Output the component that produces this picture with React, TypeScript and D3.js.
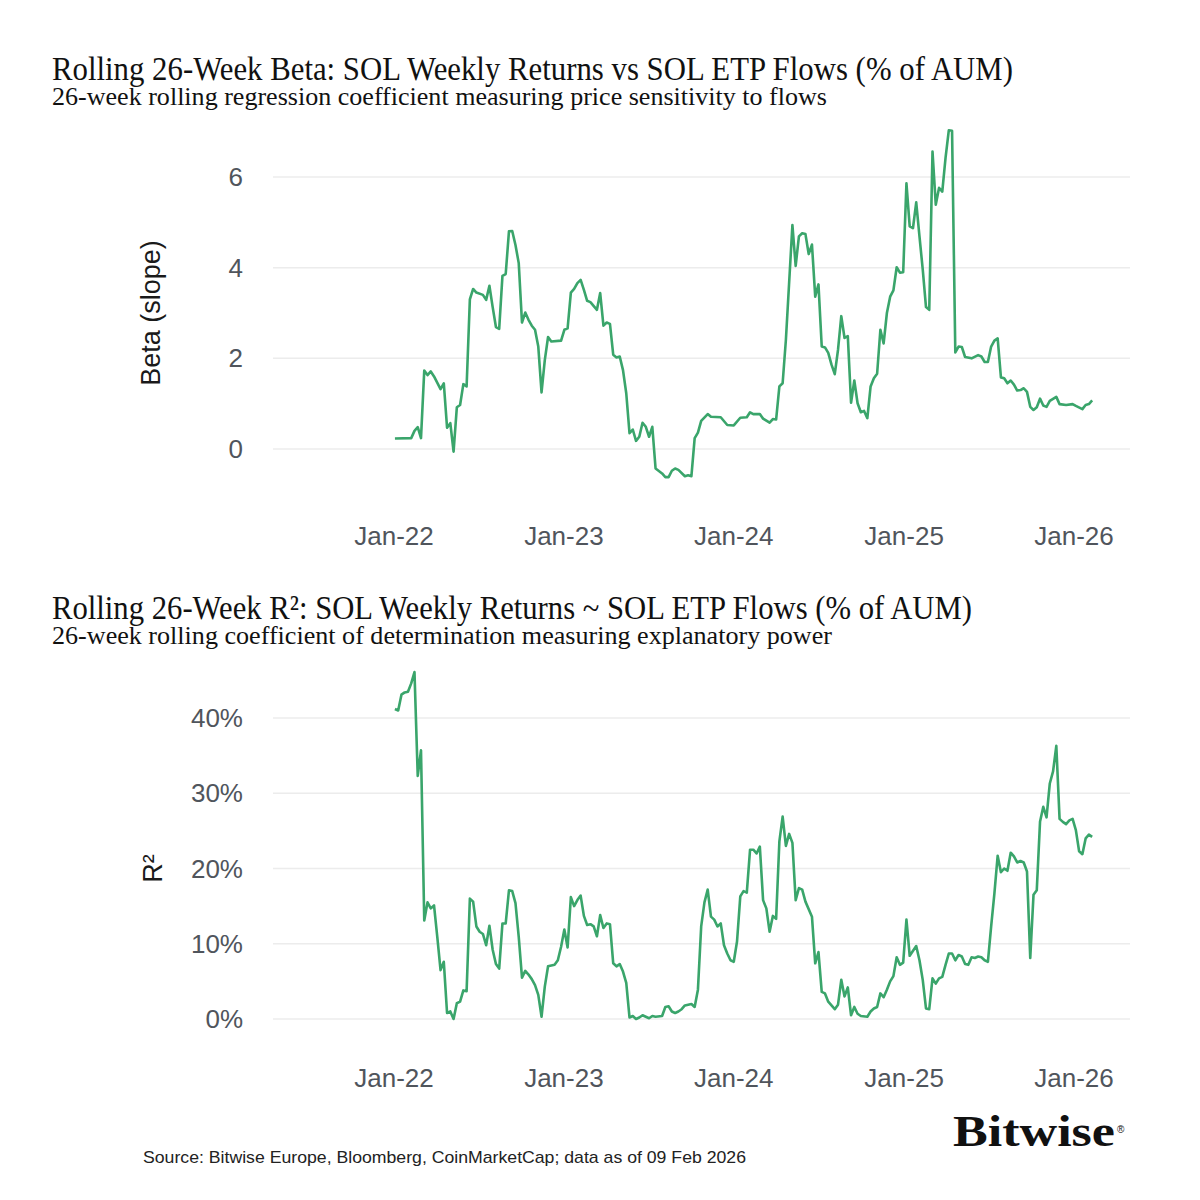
import { useEffect, useRef } from 'react'
import * as d3 from 'd3'

const betaDates = [
  '2022-01-03', '2022-02-07', '2022-02-14', '2022-02-21', '2022-02-28', '2022-03-07', '2022-03-14', '2022-03-21',
  '2022-03-28', '2022-04-11', '2022-04-18', '2022-04-25', '2022-05-02', '2022-05-09', '2022-05-16', '2022-05-23',
  '2022-05-30', '2022-06-06', '2022-06-13', '2022-06-20', '2022-06-27', '2022-07-11', '2022-07-18', '2022-07-25',
  '2022-08-01', '2022-08-08', '2022-08-15', '2022-08-22', '2022-08-29', '2022-09-05', '2022-09-12', '2022-09-19',
  '2022-09-26', '2022-10-03', '2022-10-10', '2022-10-17', '2022-10-24', '2022-10-31', '2022-11-07', '2022-11-14',
  '2022-11-21', '2022-11-28', '2022-12-05', '2022-12-26', '2023-01-02', '2023-01-09', '2023-01-16', '2023-01-23',
  '2023-01-30', '2023-02-06', '2023-02-13', '2023-02-20', '2023-02-27', '2023-03-13', '2023-03-20', '2023-03-27',
  '2023-04-03', '2023-04-10', '2023-04-17', '2023-04-24', '2023-05-01', '2023-05-08', '2023-05-15', '2023-05-22',
  '2023-05-29', '2023-06-05', '2023-06-12', '2023-06-19', '2023-06-26', '2023-07-03', '2023-07-10', '2023-07-17',
  '2023-07-31', '2023-08-07', '2023-08-14', '2023-08-21', '2023-08-28', '2023-09-04', '2023-09-18', '2023-09-25',
  '2023-10-02', '2023-10-09', '2023-10-16', '2023-10-23', '2023-11-06', '2023-11-13', '2023-12-04', '2023-12-18',
  '2024-01-01', '2024-01-15', '2024-01-29', '2024-02-05', '2024-02-12', '2024-02-26', '2024-03-04', '2024-03-18',
  '2024-03-25', '2024-04-01', '2024-04-08', '2024-04-15', '2024-04-22', '2024-05-06', '2024-05-13', '2024-05-20',
  '2024-05-27', '2024-06-03', '2024-06-10', '2024-06-17', '2024-06-24', '2024-07-01', '2024-07-08', '2024-07-15',
  '2024-07-22', '2024-07-29', '2024-08-05', '2024-08-12', '2024-08-19', '2024-08-26', '2024-09-02', '2024-09-09',
  '2024-09-16', '2024-09-23', '2024-09-30', '2024-10-07', '2024-10-14', '2024-10-21', '2024-10-28', '2024-11-04',
  '2024-11-11', '2024-11-18', '2024-11-25', '2024-12-02', '2024-12-09', '2024-12-16', '2024-12-23', '2024-12-30',
  '2025-01-06', '2025-01-13', '2025-01-20', '2025-01-27', '2025-02-03', '2025-02-10', '2025-02-17', '2025-02-24',
  '2025-03-03', '2025-03-10', '2025-03-17', '2025-03-24', '2025-03-31', '2025-04-07', '2025-04-14', '2025-04-21',
  '2025-04-28', '2025-05-05', '2025-05-12', '2025-05-26', '2025-06-09', '2025-06-16', '2025-06-23', '2025-06-30',
  '2025-07-07', '2025-07-14', '2025-07-21', '2025-07-28', '2025-08-04', '2025-08-11', '2025-08-18', '2025-08-25',
  '2025-09-01', '2025-09-08', '2025-09-15', '2025-09-22', '2025-09-29', '2025-10-06', '2025-10-13', '2025-10-20',
  '2025-10-27', '2025-11-03', '2025-11-10', '2025-11-24', '2025-12-01', '2025-12-15', '2025-12-29', '2026-01-05',
  '2026-01-19', '2026-01-26', '2026-02-02', '2026-02-09',
]
const betaValues = [
  0.23, 0.24, 0.4, 0.48, 0.24, 1.73, 1.63, 1.71,
  1.6, 1.32, 1.45, 0.47, 0.57, -0.06, 0.92, 0.97,
  1.43, 1.38, 3.3, 3.53, 3.45, 3.4, 3.29, 3.6,
  3.13, 2.69, 2.65, 3.82, 3.86, 4.8, 4.81, 4.5,
  4.1, 2.79, 3.01, 2.85, 2.72, 2.63, 2.26, 1.25,
  1.96, 2.47, 2.37, 2.39, 2.63, 2.66, 3.45, 3.53,
  3.66, 3.73, 3.51, 3.27, 3.24, 3.07, 3.44, 2.72,
  2.79, 2.76, 2.08, 2.02, 2.04, 1.74, 1.23, 0.35,
  0.43, 0.18, 0.27, 0.58, 0.49, 0.27, 0.49, -0.43,
  -0.54, -0.62, -0.62, -0.48, -0.43, -0.46, -0.6, -0.58,
  -0.6, 0.24, 0.36, 0.62, 0.77, 0.71, 0.7, 0.53,
  0.52, 0.69, 0.7, 0.81, 0.77, 0.77, 0.67, 0.58,
  0.66, 0.65, 1.38, 1.45, 2.41, 4.94, 4.04, 4.69,
  4.76, 4.74, 4.3, 4.51, 3.36, 3.63, 2.26, 2.24,
  2.12, 1.86, 1.65, 2.19, 2.93, 2.45, 2.49, 1.02,
  1.51, 1.01, 0.81, 0.84, 0.68, 1.38, 1.56, 1.66,
  2.63, 2.33, 3.0, 3.36, 3.5, 4.01, 3.89, 3.9,
  5.86, 4.91, 4.87, 5.44, 4.69, 3.96, 3.13, 3.07,
  6.56, 5.39, 5.76, 5.68, 6.42, 7.03, 7.02, 2.13,
  2.26, 2.25, 2.03, 2.0, 2.07, 2.04, 1.92, 1.92,
  2.26, 2.39, 2.44, 1.58, 1.56, 1.45, 1.51, 1.42,
  1.29, 1.3, 1.34, 1.26, 0.93, 0.86, 0.92, 1.11,
  0.96, 0.93, 1.06, 1.15, 0.99, 0.97, 0.99, 0.95,
  0.88, 0.97, 0.99, 1.07,
]

const r2Dates = [
  '2022-01-03', '2022-01-10', '2022-01-17', '2022-01-24', '2022-01-31', '2022-02-07', '2022-02-14', '2022-02-21',
  '2022-02-28', '2022-03-07', '2022-03-14', '2022-03-21', '2022-03-28', '2022-04-04', '2022-04-11', '2022-04-18',
  '2022-04-25', '2022-05-02', '2022-05-09', '2022-05-16', '2022-05-23', '2022-05-30', '2022-06-06', '2022-06-13',
  '2022-06-20', '2022-06-27', '2022-07-04', '2022-07-11', '2022-07-18', '2022-07-25', '2022-08-01', '2022-08-08',
  '2022-08-15', '2022-08-22', '2022-08-29', '2022-09-05', '2022-09-12', '2022-09-19', '2022-09-26', '2022-10-03',
  '2022-10-10', '2022-10-17', '2022-10-24', '2022-10-31', '2022-11-07', '2022-11-14', '2022-11-21', '2022-11-28',
  '2022-12-12', '2022-12-19', '2022-12-26', '2023-01-02', '2023-01-09', '2023-01-16', '2023-01-23', '2023-01-30',
  '2023-02-06', '2023-02-13', '2023-02-20', '2023-02-27', '2023-03-06', '2023-03-13', '2023-03-20', '2023-03-27',
  '2023-04-03', '2023-04-10', '2023-04-17', '2023-04-24', '2023-05-01', '2023-05-08', '2023-05-15', '2023-05-22',
  '2023-05-29', '2023-06-05', '2023-06-12', '2023-06-19', '2023-06-26', '2023-07-03', '2023-07-10', '2023-07-17',
  '2023-07-31', '2023-08-07', '2023-08-14', '2023-08-21', '2023-08-28', '2023-09-04', '2023-09-11', '2023-09-18',
  '2023-10-02', '2023-10-09', '2023-10-16', '2023-10-23', '2023-10-30', '2023-11-06', '2023-11-13', '2023-11-20',
  '2023-11-27', '2023-12-04', '2023-12-11', '2023-12-18', '2023-12-25', '2024-01-01', '2024-01-08', '2024-01-15',
  '2024-01-22', '2024-01-29', '2024-02-05', '2024-02-12', '2024-02-19', '2024-02-26', '2024-03-04', '2024-03-11',
  '2024-03-18', '2024-03-25', '2024-04-01', '2024-04-08', '2024-04-15', '2024-04-22', '2024-04-29', '2024-05-06',
  '2024-05-13', '2024-05-20', '2024-05-27', '2024-06-03', '2024-06-17', '2024-06-24', '2024-07-01', '2024-07-08',
  '2024-07-15', '2024-07-22', '2024-07-29', '2024-08-05', '2024-08-12', '2024-08-19', '2024-08-26', '2024-09-02',
  '2024-09-09', '2024-09-16', '2024-09-23', '2024-09-30', '2024-10-14', '2024-10-21', '2024-10-28', '2024-11-04',
  '2024-11-11', '2024-11-18', '2024-11-25', '2024-12-02', '2024-12-09', '2024-12-16', '2024-12-23', '2024-12-30',
  '2025-01-06', '2025-01-13', '2025-01-27', '2025-02-03', '2025-02-10', '2025-02-17', '2025-02-24', '2025-03-03',
  '2025-03-10', '2025-03-17', '2025-03-24', '2025-03-31', '2025-04-07', '2025-04-14', '2025-04-21', '2025-04-28',
  '2025-05-05', '2025-05-12', '2025-05-19', '2025-05-26', '2025-06-02', '2025-06-09', '2025-06-16', '2025-06-23',
  '2025-06-30', '2025-07-07', '2025-07-14', '2025-07-21', '2025-07-28', '2025-08-04', '2025-08-11', '2025-08-18',
  '2025-08-25', '2025-09-01', '2025-09-08', '2025-09-15', '2025-09-22', '2025-09-29', '2025-10-06', '2025-10-13',
  '2025-10-20', '2025-10-27', '2025-11-03', '2025-11-10', '2025-11-17', '2025-11-24', '2025-12-01', '2025-12-08',
  '2025-12-15', '2025-12-22', '2025-12-29', '2026-01-05', '2026-01-12', '2026-01-19', '2026-01-26', '2026-02-02',
  '2026-02-09',
]
// R² in percent
const r2Values = [
  41.2, 41.0, 43.1, 43.4, 43.5, 44.6, 46.1, 32.3,
  35.7, 13.1, 15.5, 14.7, 15.1, 10.9, 6.5, 7.6,
  0.8, 1.0, 0.0, 2.1, 2.3, 3.8, 3.7, 16.0,
  15.6, 12.3, 11.6, 11.3, 9.8, 12.4, 9.2, 7.3,
  6.7, 12.7, 12.7, 17.1, 17.0, 15.4, 10.9, 5.5,
  6.4, 5.9, 5.3, 4.5, 3.2, 0.3, 4.3, 7.0,
  7.2, 7.8, 9.6, 11.9, 9.5, 16.2, 15.0, 15.8,
  16.4, 13.7, 12.5, 12.6, 12.3, 11.0, 13.8, 12.1,
  12.7, 12.6, 7.4, 7.0, 7.3, 6.3, 4.8, 0.2,
  0.4, 0.0, 0.2, 0.5, 0.3, 0.1, 0.4, 0.3,
  0.4, 1.6, 1.7, 1.0, 0.8, 1.0, 1.3, 1.8,
  2.0, 1.6, 3.9, 12.3, 15.5, 17.2, 13.6, 13.2,
  12.3, 12.7, 9.8, 8.7, 7.8, 7.6, 10.3, 16.3,
  17.0, 16.8, 22.5, 22.5, 22.0, 22.9, 15.8, 14.7,
  11.6, 13.7, 13.3, 23.6, 26.9, 23.0, 24.6, 23.4,
  15.8, 17.4, 17.2, 15.6, 13.6, 7.4, 8.9, 3.6,
  3.4, 2.3, 1.8, 1.3, 1.9, 5.2, 3.0, 4.2,
  0.5, 1.6, 0.7, 0.4, 0.3, 1.0, 1.4, 1.6,
  3.4, 2.9, 3.9, 5.0, 5.7, 8.2, 7.2, 7.5,
  13.2, 8.4, 9.7, 7.8, 5.2, 1.4, 1.3, 5.4,
  4.7, 5.4, 5.6, 7.2, 8.7, 8.7, 7.8, 8.5,
  8.3, 7.3, 7.2, 8.2, 8.1, 8.3, 8.2, 7.8,
  7.6, 12.3, 16.7, 21.7, 19.5, 20.0, 19.7, 22.1,
  21.6, 20.8, 21.0, 20.8, 19.6, 8.1, 16.5, 17.1,
  26.2, 28.2, 26.8, 31.3, 32.9, 36.3, 26.6, 26.2,
  25.9, 26.4, 26.6, 25.1, 22.3, 21.9, 24.0, 24.5,
  24.2,
]

const xTickDates = ['2022-01-01', '2023-01-01', '2024-01-01', '2025-01-01', '2026-01-01']
const betaTicks = [0, 2, 4, 6]
const r2Ticks = [0, 10, 20, 30, 40]

const LINE = '#3aa56b'
const GRID = '#ececec'
const TICK = '#50555c'
const SERIF = '"Liberation Serif", "Times New Roman", serif'
const SANS = '"Liberation Sans", Arial, Helvetica, sans-serif'

const parseDate = d3.utcParse('%Y-%m-%d')

interface PanelOpts {
  dates: string[]
  values: number[]
  yDomain: [number, number]
  yRange: [number, number]
  ticks: number[]
  tickFormat: (d: number) => string
  yTitle: string
  yTitleX: number
  xLabelY: number
  title: string
  titleY: number
  titleLen: number
  subtitle: string
  subtitleLen: number
}

export default function App() {
  const svgRef = useRef<SVGSVGElement>(null)

  useEffect(() => {
    if (!svgRef.current) return
    const svg = d3.select(svgRef.current)
    svg.selectAll('*').remove()

    svg.append('rect').attr('width', 1200).attr('height', 1200).attr('fill', '#fff')

    const x = d3
      .scaleUtc()
      .domain([parseDate(xTickDates[0])!, parseDate(xTickDates[xTickDates.length - 1])!])
      .range([394, 1074])
    const gridLeft = 273
    const gridRight = 1130

    const drawPanel = (o: PanelOpts) => {
      const g = svg.append('g')
      const y = d3.scaleLinear().domain(o.yDomain).range(o.yRange)

      // titles
      g.append('text')
        .attr('x', 52)
        .attr('y', o.titleY)
        .attr('font-family', SERIF)
        .attr('font-size', 34)
        .attr('fill', '#111')
        .attr('textLength', o.titleLen)
        .attr('lengthAdjust', 'spacingAndGlyphs')
        .text(o.title)
      g.append('text')
        .attr('x', 52)
        .attr('y', o.titleY + 25)
        .attr('font-family', SERIF)
        .attr('font-size', 26)
        .attr('fill', '#111')
        .attr('textLength', o.subtitleLen)
        .attr('lengthAdjust', 'spacingAndGlyphs')
        .text(o.subtitle)

      // grid lines
      g.append('g')
        .selectAll('line')
        .data(o.ticks)
        .enter()
        .append('line')
        .attr('x1', gridLeft)
        .attr('x2', gridRight)
        .attr('y1', d => y(d))
        .attr('y2', d => y(d))
        .attr('stroke', GRID)
        .attr('stroke-width', 1.5)

      // y tick labels
      g.append('g')
        .selectAll('text')
        .data(o.ticks)
        .enter()
        .append('text')
        .attr('x', 243)
        .attr('y', d => y(d))
        .attr('dy', '0.35em')
        .attr('text-anchor', 'end')
        .attr('font-family', SANS)
        .attr('font-size', 26)
        .attr('fill', TICK)
        .text(d => o.tickFormat(d))

      // x tick labels
      g.append('g')
        .selectAll('text')
        .data(xTickDates)
        .enter()
        .append('text')
        .attr('x', d => x(parseDate(d)!))
        .attr('y', o.xLabelY)
        .attr('text-anchor', 'middle')
        .attr('font-family', SANS)
        .attr('font-size', 26)
        .attr('fill', TICK)
        .text(d => d3.utcFormat('%b-%y')(parseDate(d)!))

      // y axis title
      const midY = (y(o.ticks[0]) + y(o.ticks[o.ticks.length - 1])) / 2
      g.append('text')
        .attr('transform', `translate(${o.yTitleX}, ${midY}) rotate(-90)`)
        .attr('text-anchor', 'middle')
        .attr('font-family', SANS)
        .attr('font-size', 27)
        .attr('fill', '#1a1a1a')
        .text(o.yTitle)

      // line
      const pts = o.dates.map((d, i) => ({ date: parseDate(d)!, value: o.values[i] }))
      const line = d3
        .line<{ date: Date; value: number }>()
        .x(d => x(d.date))
        .y(d => y(d.value))
      g.append('path')
        .datum(pts)
        .attr('d', line)
        .attr('fill', 'none')
        .attr('stroke', LINE)
        .attr('stroke-width', 2.6)
        .attr('stroke-linejoin', 'round')
    }

    drawPanel({
      dates: betaDates,
      values: betaValues,
      yDomain: [0, 6],
      yRange: [449, 177],
      ticks: betaTicks,
      tickFormat: d => `${d}`,
      yTitle: 'Beta (slope)',
      yTitleX: 160,
      xLabelY: 545,
      title: 'Rolling 26-Week Beta: SOL Weekly Returns vs SOL ETP Flows (% of AUM)',
      titleY: 80,
      titleLen: 961,
      subtitle: '26-week rolling regression coefficient measuring price sensitivity to flows',
      subtitleLen: 775,
    })

    drawPanel({
      dates: r2Dates,
      values: r2Values,
      yDomain: [0, 40],
      yRange: [1019, 718],
      ticks: r2Ticks,
      tickFormat: d => `${d}%`,
      yTitle: 'R²',
      yTitleX: 162,
      xLabelY: 1087,
      title: 'Rolling 26-Week R²: SOL Weekly Returns ~ SOL ETP Flows (% of AUM)',
      titleY: 619,
      titleLen: 920,
      subtitle: '26-week rolling coefficient of determination measuring explanatory power',
      subtitleLen: 780,
    })

    // footer
    svg.append('text')
      .attr('x', 143)
      .attr('y', 1163)
      .attr('font-family', SANS)
      .attr('font-size', 17)
      .attr('fill', '#222')
      .attr('textLength', 603)
      .attr('lengthAdjust', 'spacingAndGlyphs')
      .text('Source: Bitwise Europe, Bloomberg, CoinMarketCap; data as of 09 Feb 2026')

    svg.append('text')
      .attr('x', 953)
      .attr('y', 1146)
      .attr('font-family', SERIF)
      .attr('font-weight', 700)
      .attr('font-size', 44)
      .attr('fill', '#111')
      .attr('textLength', 162)
      .attr('lengthAdjust', 'spacingAndGlyphs')
      .text('Bitwise')
    svg.append('text')
      .attr('x', 1117)
      .attr('y', 1133)
      .attr('font-family', SANS)
      .attr('font-size', 10)
      .attr('fill', '#111')
      .text('®')
  }, [])

  return (
    <svg
      ref={svgRef}
      width={1200}
      height={1200}
      style={{ position: 'absolute', left: 0, top: 0, display: 'block' }}
    />
  )
}
